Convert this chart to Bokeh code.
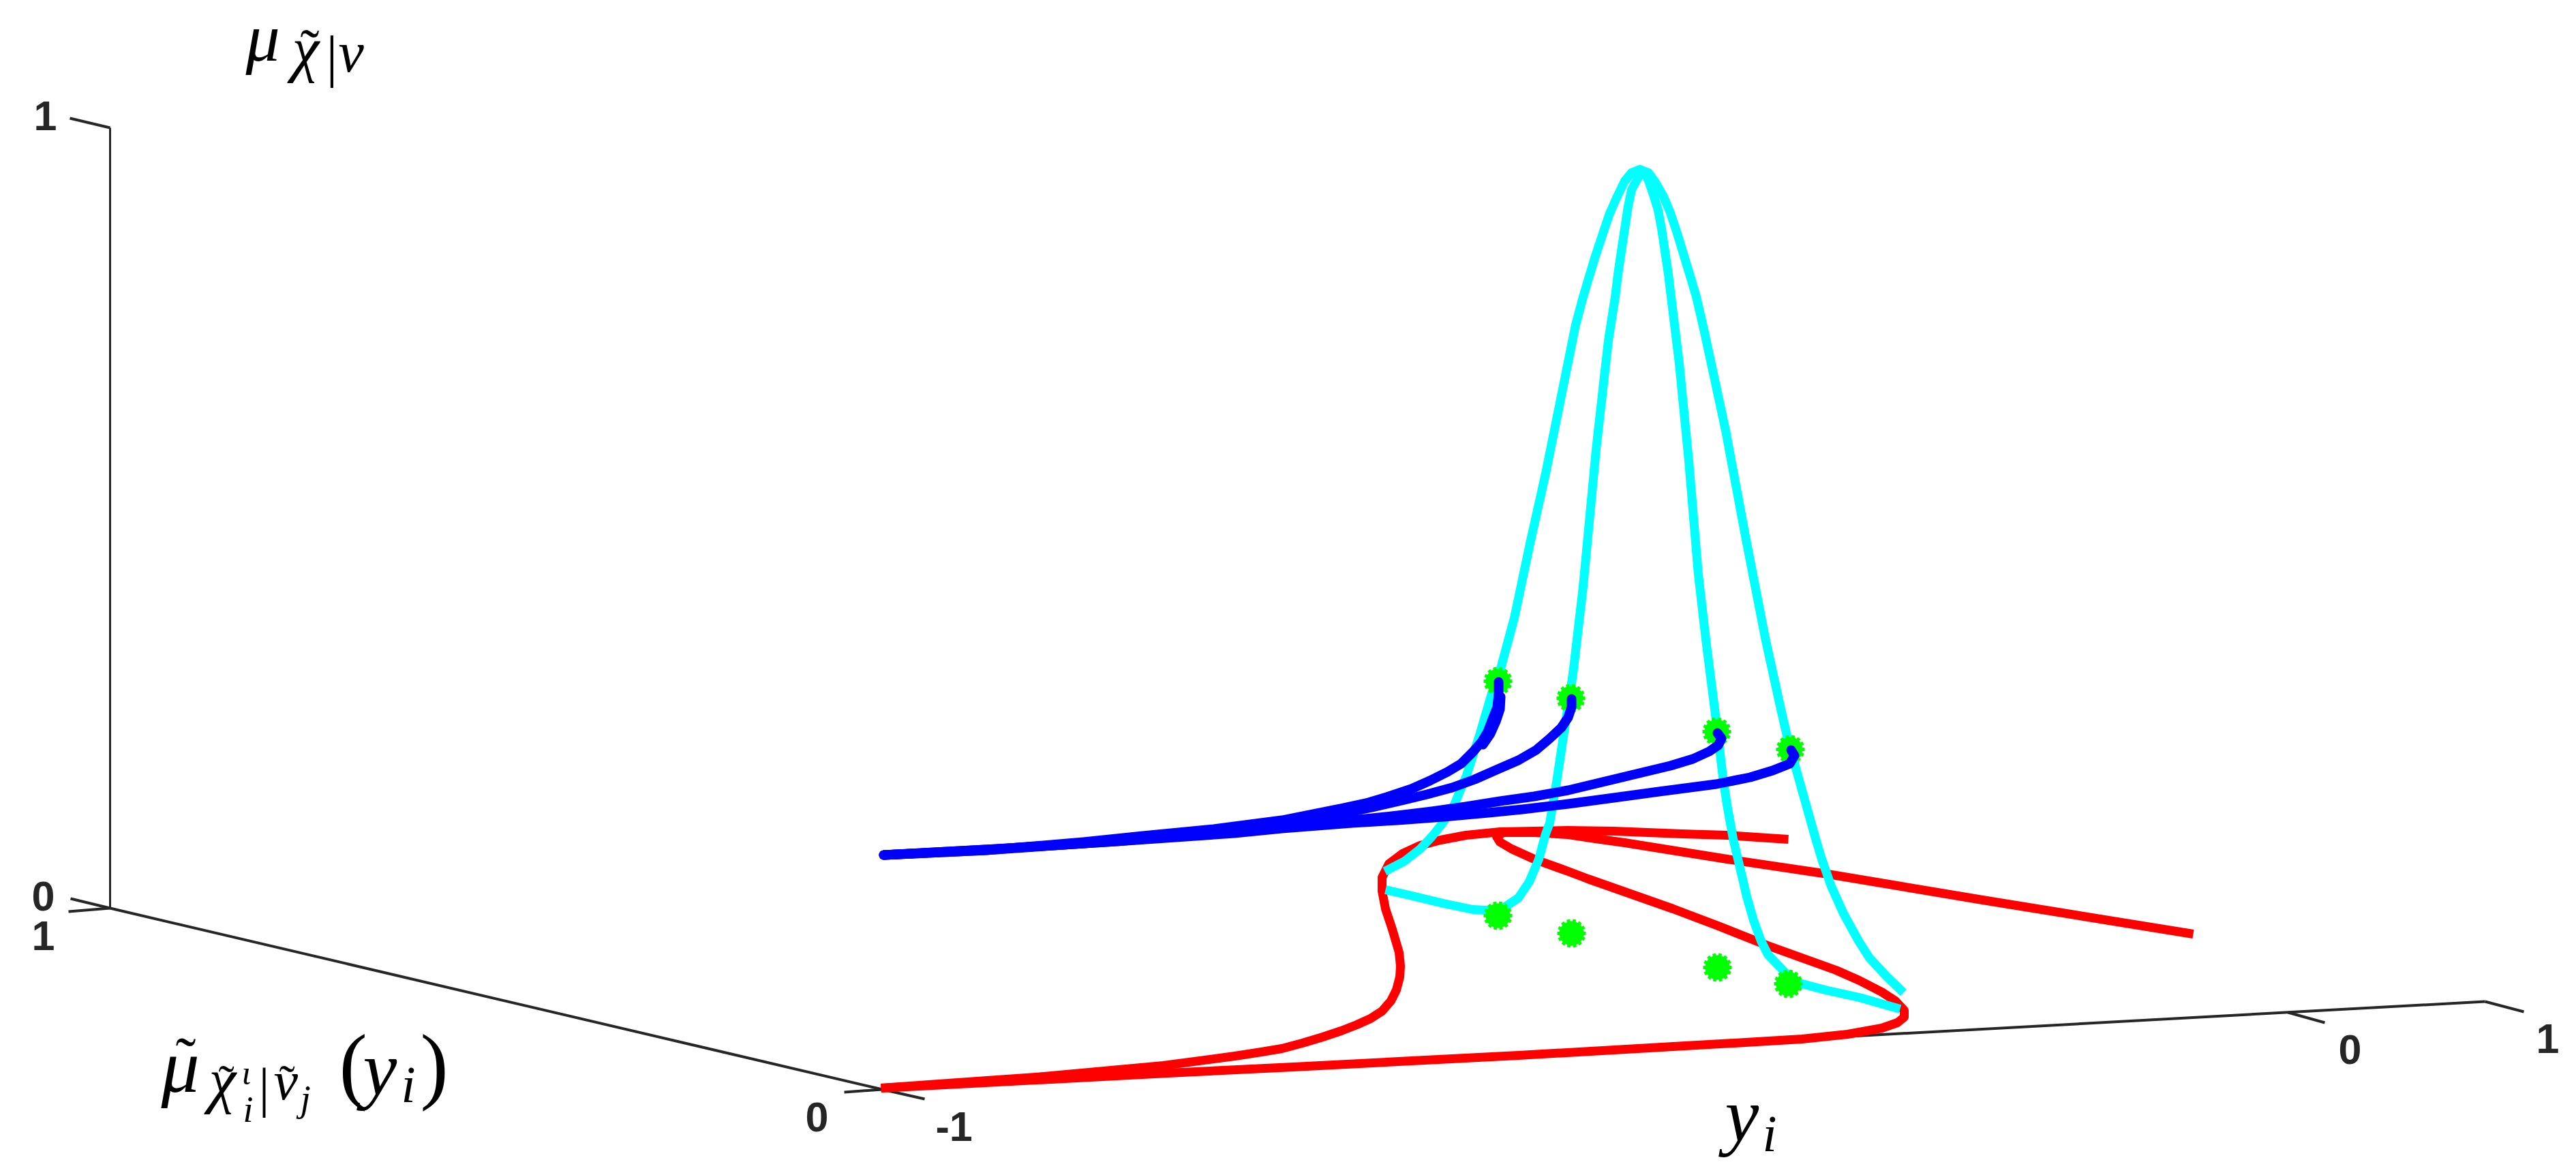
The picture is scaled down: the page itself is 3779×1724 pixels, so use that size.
from bokeh.plotting import figure
from bokeh.models import Range1d
from bokeh.core.properties import value
from bokeh.embed import file_html
from bokeh.resources import INLINE

red_a_x = [2623,2533,2467,2367,2300,2250,2200,2150,2113,2083,2057,2037,2027,2027,2032,2042,2047,2052,2054,2053,2048,2040,2027,2010,1990,1967,1940,1910,1880,1850,1811,1706,1531,1390,1292]
red_a_y = [1231,1225,1223,1219,1218,1219,1220,1225,1232,1240,1252,1267,1287,1307,1333,1363,1380,1397,1417,1433,1452,1468,1483,1494,1503,1512,1521,1530,1538,1543,1549,1563,1579,1589,1596]
red_b_x = [1292,1713,1897,2090,2227,2454,2560,2643,2710,2760,2783,2793,2793,2780,2760,2727,2693,2643,2593,2520,2454,2329,2300,2250,2217,2200,2195,2205,2250,2300,2340,2383,2533,2681,2908,3217]
red_b_y = [1596,1574,1565,1555,1548,1535,1529,1524,1517,1508,1500,1492,1482,1468,1455,1438,1423,1405,1387,1358,1333,1289,1278,1260,1245,1235,1227,1221,1221,1224,1230,1236,1260,1282,1320,1370]

cyan_a_x = [2031,2060,2083,2100,2116,2133,2151,2171,2187,2200,2221,2244,2267,2289,2311,2322,2330,2340,2350,2360,2370,2383,2393,2405,2418,2428,2440,2450,2460,2470,2480,2488,2500,2531,2560,2589,2612,2622,2633,2647,2663,2672,2686,2704,2726,2742,2767,2792]
cyan_a_y = [1278,1263,1245,1227,1207,1180,1137,1075,1020,984,906,797,694,585,476,435,408,375,345,315,292,265,253,248,253,267,288,312,342,375,408,435,487,631,786,935,1040,1083,1123,1173,1230,1260,1300,1340,1380,1405,1432,1456]
cyan_b_x = [2032,2067,2117,2160,2180,2203,2227,2243,2257,2267,2273,2283,2293,2304,2308,2322,2341,2359,2369,2373,2378,2383,2388,2393,2400,2408,2412,2418,2425,2432,2437,2442,2447,2451,2463,2477,2491,2503,2515,2522,2527,2533,2542,2562,2572,2583,2593,2615,2632,2677,2727,2787]
cyan_b_y = [1305,1313,1325,1334,1335,1333,1317,1293,1260,1223,1207,1147,1080,1009,980,860,659,499,435,402,368,335,302,278,265,251,252,265,285,308,335,368,402,435,533,676,843,946,1040,1097,1140,1180,1230,1315,1350,1380,1400,1423,1440,1452,1463,1480]

blue_1_x = [2198,2198,2196,2188,2182,2173,2160,2143,2123,2097,2070,2040,2007,1970,1880,1780,1676,1589,1446,1296]
blue_1_y = [1000,1017,1037,1057,1073,1088,1103,1120,1132,1145,1157,1167,1177,1185,1203,1216,1226,1235,1247,1254]
blue_1b_x = [2201,2200,2194,2186,2175]
blue_1b_y = [1022,1040,1058,1076,1092]
blue_2_x = [2305,2305,2300,2290,2273,2253,2227,2197,2163,2130,2093,2060,2017,1970,1880,1780,1676,1589,1446,1296]
blue_2_y = [1025,1037,1052,1067,1083,1100,1115,1128,1143,1155,1165,1173,1183,1193,1208,1219,1229,1237,1247,1254]
blue_3_x = [2519,2525,2520,2507,2483,2450,2400,2350,2300,2250,2200,2150,2100,2050,1983,1880,1780,1637,1463,1296]
blue_3_y = [1075,1083,1093,1102,1113,1123,1135,1147,1159,1168,1175,1183,1190,1196,1203,1212,1222,1234,1245,1254]
blue_4_x = [2627,2632,2625,2600,2567,2517,2433,2367,2300,2233,2183,2117,2050,1983,1880,1810,1637,1463,1296]
blue_4_y = [1100,1108,1120,1130,1140,1150,1161,1170,1179,1187,1192,1198,1203,1207,1215,1222,1234,1245,1254]

green_x = [2197,2304,2518,2626,2197,2305,2519,2623]
green_y = [999,1024,1073,1099,1343,1369,1419,1443]

axis_x0 = [161,161,1294,1294,161,1294,3645,3356,161]
axis_y0 = [187,1332,1598,1598,1332,1598,1469,1485,187]
axis_x1 = [102,100,1238,1356,103,3645,3702,3410,161]
axis_y1 = [173,1337,1602,1612,1318,1469,1484,1500,1332]
axis_w  = [4,4,4,4,4,4,4,4,3]
depth_x = [161,1294]
depth_y = [1332,1598]

tick_labels = ["1","0","1","0","-1","0","1"]
tick_x = [49,46,46,1181,1372,3430,3720]
tick_y = [190,1335,1393,1659,1673,1560,1544]
TICK_SIZE = 61

p = figure(width=3763, height=1708, x_range=Range1d(0,3763), y_range=Range1d(1708,0),
           output_backend="svg", toolbar_location=None, min_border=0,
           outline_line_color=None, background_fill_color="white")
p.axis.visible = False
p.grid.visible = False

for x0,y0,x1,y1,w in zip(axis_x0,axis_y0,axis_x1,axis_y1,axis_w):
    p.segment([x0],[y0],[x1],[y1],line_color="#262626",line_width=w)
p.line(depth_x, depth_y, line_color="#262626", line_width=4)

p.line(red_a_x, red_a_y, line_color="#ff0000", line_width=13, line_join="round")
p.line(red_b_x, red_b_y, line_color="#ff0000", line_width=13, line_join="round")
p.line(cyan_a_x, cyan_a_y, line_color="#00ffff", line_width=13, line_join="round")
p.line(cyan_b_x, cyan_b_y, line_color="#00ffff", line_width=13, line_join="round")

p.scatter(green_x, green_y, marker="circle", size=36, fill_color="#00ff00", line_color=None)
for a in [0,26,52,78,104,130,156]:
    p.scatter(green_x, green_y, marker="dash", size=42, angle=a, angle_units="deg",
              line_color="#00ff00", line_width=5)

for bx,by in [(blue_1_x,blue_1_y),(blue_1b_x,blue_1b_y),(blue_2_x,blue_2_y),(blue_3_x,blue_3_y),(blue_4_x,blue_4_y)]:
    p.line(bx, by, line_color="#0000ff", line_width=14, line_join="round", line_cap="round")

LIFT = 0.33
p.text(tick_x, [v - LIFT*TICK_SIZE for v in tick_y], text=tick_labels, text_font=value("Liberation Sans"),
       text_font_style="bold", text_font_size=f"{TICK_SIZE}px", text_color="#262626",
       text_baseline="alphabetic", text_align="left")

def piece(x, y, t, size, style="italic"):
    p.text([x],[y - LIFT*size],text=[t],text_font=value("Liberation Serif"),text_font_style=style,
           text_font_size=f"{size}px",text_color="black",text_baseline="alphabetic",text_align="left")

# z label
piece(360, 88, "\u03bc", 100)
piece(428, 102, "\u03c7", 90)
piece(440, 100, "\u02dc", 84, "normal")
piece(478, 110, "|", 84, "normal")
piece(496, 104, "\u03bd", 84)
# depth label
piece(236, 1600, "\u03bc", 112)
piece(257, 1584, "\u02dc", 90, "normal")
piece(306, 1615, "\u03c7", 90)
piece(320, 1610, "\u02dc", 70, "normal")
piece(354, 1590, "\u03b9", 50)
piece(356, 1645, "i", 54)
piece(379, 1622, "|", 80, "normal")
piece(401, 1612, "\u03bd", 80)
piece(409, 1610, "\u02dc", 70, "normal")
piece(440, 1629, "j", 55)
piece(497, 1603, "(", 124, "normal")
piece(532, 1604, "y", 112)
piece(588, 1616, "i", 76)
piece(616, 1603, ")", 124, "normal")
# x label
piece(2530, 1672, "y", 112)
piece(2585, 1688, "i", 76)

open("out.html","w").write(file_html(p, INLINE))
